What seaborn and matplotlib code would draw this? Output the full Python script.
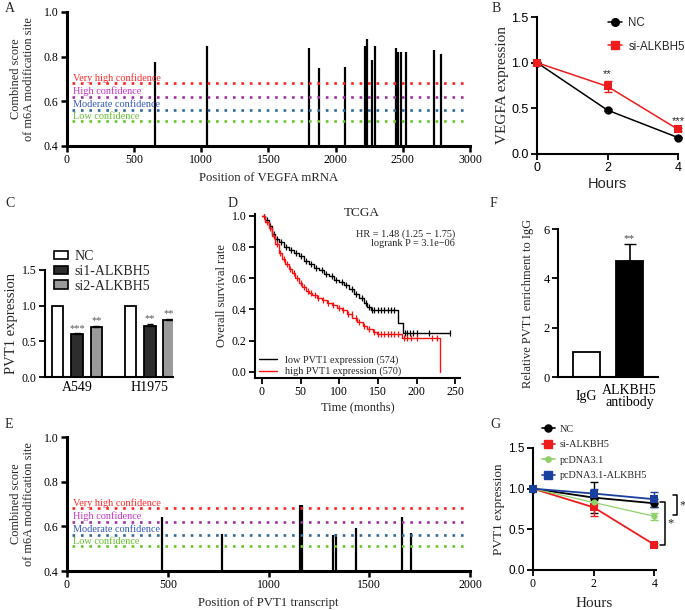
import numpy as np
import pandas as pd
import matplotlib
matplotlib.use('Agg')
import matplotlib.pyplot as plt
from matplotlib.lines import Line2D
from matplotlib.patches import Patch
import seaborn as sns

# ---- A: m6A sites on VEGFA mRNA
vegfa_pos = [655, 1045, 1801, 1878, 2069, 2221, 2228, 2233, 2268, 2293, 2452, 2462, 2486, 2521, 2730, 2782]
vegfa_score = [0.775, 0.848, 0.837, 0.751, 0.754, 0.848, 0.84, 0.879, 0.784, 0.849, 0.837, 0.819, 0.821, 0.822, 0.83, 0.813]

# ---- E: m6A sites on PVT1 transcript
pvt1_pos = [470, 768, 1158, 1164, 1322, 1335, 1434, 1664, 1707]
pvt1_score = [0.64, 0.565, 0.695, 0.695, 0.56, 0.567, 0.594, 0.64, 0.57]

conf_labels = ['Very high confidence', 'High confidence', 'Moderate confidence', 'Low confidence']
conf_levels = [0.68, 0.62, 0.56, 0.51]
conf_line_colors = ['#ff2020', '#a030a0', '#2f6a9a', '#66c820']
conf_text_colors = ['#ff2a2a', '#cc33cc', '#3358c0', '#66c030']

# ---- B: VEGFA expression over time
hours = [0, 2, 4]
vegfa_nc = [1.0, 0.48, 0.18]
vegfa_nc_err = [0.0, 0.01, 0.01]
vegfa_si = [1.0, 0.74, 0.27]
vegfa_si_err = [0.0, 0.06, 0.02]
vegfa_stars = ['', '**', '***']

# ---- C: PVT1 expression after knockdown
cells = ['A549', 'H1975']
c_groups = ['NC', 'si1-ALKBH5', 'si2-ALKBH5']
c_nc = [1.0, 1.0]
c_si1 = [0.60, 0.72]
c_si2 = [0.70, 0.80]
c_nc_err = [0.0, 0.0]
c_si1_err = [0.01, 0.02]
c_si2_err = [0.02, 0.02]
c_si1_stars = ['***', '**']
c_si2_stars = ['**', '**']

# ---- D: Kaplan-Meier (TCGA)
low_t = [0, 4.3, 8.7, 13, 17.3, 21.6, 28, 34.6, 41, 47.6, 54, 60.6, 67, 73.6, 80, 86.6, 93, 99.6,
         106, 112.6, 119, 125.5, 132, 136, 140.7, 176, 182, 243]
low_s = [1.0, 0.974, 0.93, 0.88, 0.853, 0.83, 0.80, 0.78, 0.76, 0.74, 0.71, 0.687, 0.666, 0.65, 0.628,
         0.613, 0.59, 0.574, 0.553, 0.528, 0.496, 0.474, 0.443, 0.415, 0.396, 0.315, 0.245, 0.245]
low_cens = [6, 11, 15, 19, 24, 31, 37, 44, 51, 57, 63, 70, 77, 83, 90, 96, 103, 109, 116, 122, 129,
            134, 138, 142, 145, 150, 154, 158, 163, 167, 171, 185, 188, 191, 195, 201, 216, 243]
high_t = [0, 4.3, 8.7, 13, 17.3, 21.6, 26, 30.3, 34.6, 39, 43.3, 47.6, 52, 56.3, 60.6, 65, 71.4, 78,
          84.4, 91, 97.4, 104, 110, 117, 123, 130, 136, 143, 149, 181, 230.5]
high_s = [1.0, 0.96, 0.92, 0.87, 0.815, 0.76, 0.725, 0.687, 0.66, 0.63, 0.60, 0.57, 0.54, 0.52, 0.506,
          0.49, 0.474, 0.457, 0.443, 0.428, 0.41, 0.396, 0.372, 0.347, 0.32, 0.294, 0.272, 0.255, 0.24,
          0.215, 0.0]
high_cens = [3, 7, 11, 15, 19, 23, 28, 32, 36, 41, 45, 50, 54, 59, 63, 68, 73, 79, 86, 92, 99, 105,
             111, 116, 121, 126, 132, 138, 145, 150, 154, 158, 163, 167, 171, 176, 183, 188, 193, 201, 220, 226]

# ---- F: RIP enrichment
f_labels = ['IgG', 'ALKBH5\nantibody']
f_vals = [1.0, 4.7]
f_err = [0.0, 0.7]

# ---- G: PVT1 expression over time
g_names = ['NC', 'si-ALKBH5', 'pcDNA3.1', 'pcDNA3.1-ALKBH5']
g_nc = [1.0, 0.89, 0.82]
g_nc_err = [0.0, 0.19, 0.05]
g_si = [1.0, 0.77, 0.31]
g_si_err = [0.0, 0.10, 0.02]
g_pc = [1.0, 0.83, 0.66]
g_pc_err = [0.0, 0.03, 0.04]
g_pcal = [1.0, 0.94, 0.87]
g_pcal_err = [0.0, 0.06, 0.09]

sns.set_style('ticks')
SERIF = ['Liberation Serif', 'DejaVu Serif']
SANS = ['Liberation Sans', 'DejaVu Sans']
plt.rcParams['font.family'] = SERIF
plt.rcParams['axes.linewidth'] = 1.5
plt.rcParams['xtick.major.width'] = 1.3
plt.rcParams['ytick.major.width'] = 1.3
plt.rcParams['xtick.major.size'] = 4
plt.rcParams['ytick.major.size'] = 4
plt.rcParams['xtick.color'] = 'black'
plt.rcParams['ytick.color'] = 'black'
plt.rcParams['axes.edgecolor'] = 'black'

W, H = 685, 610
fig = plt.figure(figsize=(W / 100, H / 100), dpi=100)


def box(l, t, r, b):
    return [l / W, 1 - b / H, (r - l) / W, (b - t) / H]


def clean(ax):
    sns.despine(ax=ax)


def fmt1(ax):
    ax.set_yticklabels(['%.1f' % v for v in ax.get_yticks()])


# ================= A & E =================
def site_panel(ax, pos, score, xmax, xlabel):
    ax.vlines(pos, 0.4, score, color='black', lw=1.6)
    for lvl, lab, lc, tc in zip(conf_levels, conf_labels, conf_line_colors, conf_text_colors):
        ax.hlines(lvl, xmax * 0.012, xmax * 0.996, colors=lc, linestyles=(0, (1, 2.2)), lw=1.9)
        ax.text(xmax * 0.016, lvl + 0.004, lab, color=tc, fontsize=7.4, va='bottom', ha='left')
    ax.set_xlim(0, xmax)
    ax.set_ylim(0.4, 1.0)
    ax.set_yticks([0.4, 0.6, 0.8, 1.0])
    fmt1(ax)
    ax.set_xticks(np.arange(0, xmax + 1, 500))
    for s in ['left', 'bottom']:
        ax.spines[s].set_linewidth(2.2)
    ax.tick_params(labelsize=8.5, width=1.8, length=4, pad=2)
    ax.set_ylabel('Combined score\nof m6A modification site', fontsize=8.8, labelpad=6)
    ax.set_xlabel(xlabel, fontsize=9.2, labelpad=4)
    clean(ax)


axA = fig.add_axes(box(67, 12, 470, 146))
site_panel(axA, vegfa_pos, vegfa_score, 3000, 'Position of VEGFA mRNA')
axE = fig.add_axes(box(67, 437, 470, 571))
site_panel(axE, pvt1_pos, pvt1_score, 2000, 'Position of PVT1 transcript')

# ================= B =================
axB = fig.add_axes(box(537, 17, 678, 154))
sns.lineplot(x=hours, y=vegfa_nc, ax=axB, color='black', lw=1.1, marker='o', markersize=6,
             markeredgewidth=0, clip_on=False, zorder=3)
sns.lineplot(x=hours, y=vegfa_si, ax=axB, color='#ee1c1c', lw=1.1, marker='s', markersize=6,
             markeredgewidth=0, clip_on=False, zorder=3)
axB.errorbar(hours, vegfa_si, yerr=vegfa_si_err, fmt='none', ecolor='#ee1c1c', capsize=3, lw=1, clip_on=False)
axB.errorbar(hours, vegfa_nc, yerr=vegfa_nc_err, fmt='none', ecolor='black', capsize=3, lw=1, clip_on=False)
for x, y, e, st in zip(hours, vegfa_si, vegfa_si_err, vegfa_stars):
    axB.text(x, y + e + 0.02, st, ha='center', va='bottom', fontsize=8, family=SANS)
axB.set_xlim(0, 4)
axB.set_ylim(0, 1.5)
axB.set_xticks(hours)
axB.set_yticks([0, 0.5, 1.0, 1.5])
fmt1(axB)
for lbl in axB.get_xticklabels() + axB.get_yticklabels():
    lbl.set_family(SANS)
axB.tick_params(labelsize=9, pad=2)
axB.set_ylabel('VEGFA expression', fontsize=11, labelpad=2)
axB.set_xlabel('Hours', fontsize=10.5, family=SANS, labelpad=2)
axB.legend(handles=[Line2D([], [], color='black', marker='o', lw=1.1, markersize=5.5),
                    Line2D([], [], color='#ee1c1c', marker='s', lw=1.1, markersize=5.5)],
           labels=['NC', 'si-ALKBH5'], loc='upper left', bbox_to_anchor=(0.5, 1.0), frameon=False,
           prop={'family': SANS, 'size': 8.3}, handlelength=1.3, handletextpad=0.5,
           labelspacing=1.0, borderpad=0, borderaxespad=0)
clean(axB)

# ================= C =================
axC = fig.add_axes(box(45, 270, 173, 377))
dfC = pd.DataFrame({'cell': cells * 3,
                    'group': [g for g in c_groups for _ in cells],
                    'val': c_nc + c_si1 + c_si2})
sns.barplot(data=dfC, x='cell', y='val', hue='group', ax=axC, palette=['white', '#2d2d2d', '#9a9a9a'],
            edgecolor='black', linewidth=1.3, width=0.8, gap=0.4, legend=False)
errs = [c_nc_err, c_si1_err, c_si2_err]
stars = [['', ''], c_si1_stars, c_si2_stars]
for cont, er, st in zip(axC.containers, errs, stars):
    for bar, e, s in zip(cont, er, st):
        cx = bar.get_x() + bar.get_width() / 2
        top = bar.get_height()
        if e > 0:
            axC.errorbar(cx, top, yerr=[[0], [e]], fmt='none', ecolor='black', capsize=2.5, lw=1)
        axC.text(cx, top + e + 0.01, s, ha='center', va='bottom', fontsize=7.5, color='#555555')
axC.set_xlim(-0.44, 1.32)
axC.set_ylim(0, 1.5)
axC.set_yticks([0, 0.5, 1.0, 1.5])
fmt1(axC)
axC.tick_params(axis='y', labelsize=8.5, pad=2)
axC.tick_params(axis='x', labelsize=10, length=0, pad=3)
axC.set_xlabel('')
axC.set_ylabel('PVT1 expression', fontsize=10.5, labelpad=3)
axC.legend(handles=[Patch(facecolor=c, edgecolor='black', lw=1.2) for c in ['white', '#2d2d2d', '#9a9a9a']],
           labels=c_groups, loc='upper left', bbox_to_anchor=(0.07, 1.185), frameon=False, fontsize=10,
           handlelength=1.0, handleheight=0.55, handletextpad=0.45, labelspacing=0.12, borderpad=0,
           borderaxespad=0)
clean(axC)

# ================= D =================
axD = fig.add_axes(box(255, 214, 460, 378))


def surv_at(tt, ss, t):
    i = np.searchsorted(tt, t, side='right') - 1
    return np.asarray(ss)[i]


for tt, ss, cens, col in [(low_t, low_s, low_cens, 'black'), (high_t, high_s, high_cens, '#ff1010')]:
    sns.lineplot(x=tt, y=ss, ax=axD, color=col, lw=1.0, drawstyle='steps-post',
                 estimator=None, sort=False)
    sns.scatterplot(x=cens, y=[surv_at(tt, ss, c) for c in cens], ax=axD, marker='|', s=22,
                    color=col, linewidth=0.9)
axD.set_xlim(-9, 256)
axD.set_ylim(-0.04, 1.01)
axD.set_xticks([0, 50, 100, 150, 200, 250])
axD.set_yticks([0, 0.2, 0.4, 0.6, 0.8, 1.0])
fmt1(axD)
axD.tick_params(labelsize=8.5, pad=2)
axD.set_xlabel('Time (months)', fontsize=9, labelpad=2)
axD.set_ylabel('Overall survival rate', fontsize=9, labelpad=3)
axD.text(0.52, 1.045, 'TCGA', transform=axD.transAxes, ha='center', va='top', fontsize=9.5)
axD.text(0.975, 0.905, 'HR = 1.48 (1.25 \u2212 1.75)\nlogrank P = 3.1e\u221206', transform=axD.transAxes,
         ha='right', va='top', fontsize=7.4, linespacing=1.0)
axD.legend(handles=[Line2D([], [], color='black', lw=1), Line2D([], [], color='#ff1010', lw=1)],
           labels=['low PVT1 expression (574)', 'high PVT1 expression (570)'], loc='lower left',
           bbox_to_anchor=(0.02, 0.01), frameon=False, fontsize=7.4, handlelength=1.7,
           handletextpad=0.8, labelspacing=0.2, borderpad=0, borderaxespad=0)
clean(axD)

# ================= F =================
axF = fig.add_axes(box(558, 229, 658, 377))
sns.barplot(x=f_labels, y=f_vals, hue=f_labels, ax=axF, palette=['white', 'black'], edgecolor='black',
            linewidth=1.3, width=0.63, legend=False)
for bar, e in zip(axF.patches, f_err):
    if e > 0:
        cx = bar.get_x() + bar.get_width() / 2
        axF.errorbar(cx, bar.get_height(), yerr=[[0], [e]], fmt='none', ecolor='black', capsize=4, lw=1.2)
        axF.text(cx, bar.get_height() + e + 0.02, '**', ha='center', va='bottom', fontsize=8, color='#444444')
axF.set_xlim(-0.66, 1.66)
axF.set_ylim(0, 6)
axF.set_yticks([0, 2, 4, 6])
axF.tick_params(axis='y', labelsize=9, pad=2)
axF.tick_params(axis='x', labelsize=10, length=0, pad=14)
for lbl in axF.get_xticklabels():
    lbl.set_va('center')
    lbl.set_linespacing(0.95)
axF.set_ylabel('Relative PVT1 enrichment to IgG', fontsize=9, labelpad=7)
clean(axF)

# ================= G =================
axG = fig.add_axes(box(533, 448, 656, 570))
g_cols = ['black', '#ee1c1c', '#8fd16b', '#1b3f9e']
g_marks = ['o', 's', 'o', 's']
g_sizes = [6, 6, 4.5, 6]
g_lws = [1.3, 1.3, 0.9, 1.3]
g_data = [(g_nc, g_nc_err), (g_si, g_si_err), (g_pc, g_pc_err), (g_pcal, g_pcal_err)]
for (vals, er), col, mk, ms, lw in zip(g_data, g_cols, g_marks, g_sizes, g_lws):
    sns.lineplot(x=hours, y=vals, ax=axG, color=col, lw=lw, marker=mk, markersize=ms,
                 markeredgewidth=0, clip_on=False, zorder=3)
    axG.errorbar(hours, vals, yerr=er, fmt='none', ecolor=col, capsize=3, lw=1, clip_on=False)
# significance brackets
for x0, x1, ya, yb in [(4.18, 4.33, 0.83, 0.31), (4.6, 4.75, 0.92, 0.68)]:
    axG.plot([x0, x1, x1, x0], [ya, ya, yb, yb], color='black', lw=1.1, clip_on=False)
    axG.text(x1 + 0.08, (ya + yb) / 2, '*', ha='left', va='center', fontsize=9)
axG.set_xlim(0, 4.05)
axG.set_ylim(0, 1.5)
axG.set_xticks(hours)
axG.set_yticks([0, 0.5, 1.0, 1.5])
fmt1(axG)
for lbl in axG.get_yticklabels():
    lbl.set_family(SANS)
axG.tick_params(labelsize=8.5, pad=2)
axG.set_ylabel('PVT1 expression', fontsize=9.5, labelpad=2)
axG.set_xlabel('Hours', fontsize=11, labelpad=5)
axG.legend(handles=[Line2D([], [], color=c, marker=m, lw=1.2, markersize=s * 0.85)
                    for c, m, s in zip(g_cols, g_marks, g_sizes)],
           labels=g_names, loc='upper left', bbox_to_anchor=(0.07, 1.19), frameon=False, fontsize=7.3,
           handlelength=1.3, handletextpad=0.5, labelspacing=0.62, borderpad=0, borderaxespad=0)
clean(axG)

# panel letters
for lab, x, y in [('A', 5, 8), ('B', 492, 8), ('C', 5, 203), ('D', 228, 203), ('F', 490, 203),
                  ('E', 5, 425), ('G', 490, 425)]:
    fig.text(x / W, 1 - y / H, lab, fontsize=10, ha='left', va='center')

fig.savefig('out.png', dpi=100)
